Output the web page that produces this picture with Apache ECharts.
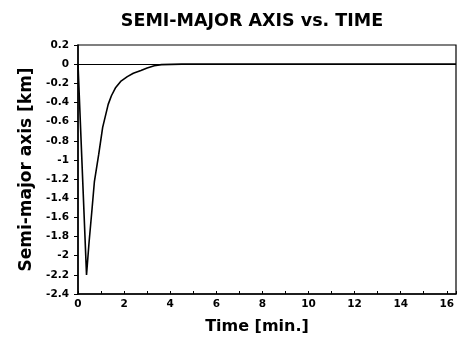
<!DOCTYPE html>
<html>
<head>
<meta charset="utf-8">
<script src="https://cdn.jsdelivr.net/npm/echarts@6/dist/echarts.min.js"></script>
<style>
html,body{margin:0;padding:0;background:#fff;}
#chart{width:460px;height:340px;}
</style>
</head>
<body>
<div id="chart"></div>
<script>
// Data
var titleText = 'SEMI-MAJOR AXIS vs. TIME';
var xName = 'Time [min.]';
var yName = 'Semi-major axis [km]';
var timeMin = [0, 0.37, 0.48, 0.61, 0.71, 0.9, 1.07, 1.31, 1.45, 1.62, 1.85, 2.14, 2.4, 2.73, 3.0, 3.31, 3.62, 4.5, 6, 8, 10, 12, 14, 16.4];
var axisKm  = [0, -2.2, -1.86, -1.51, -1.23, -0.94, -0.66, -0.42, -0.33, -0.25, -0.18, -0.13, -0.095, -0.065, -0.04, -0.017, -0.005, 0, 0, 0, 0, 0, 0, 0];
var xMin = 0, xMax = 16.4, xStep = 1, xLabelStep = 2;
var yMin = -2.4, yMax = 0.2, yStep = 0.2;

var points = timeMin.map(function(t, i){ return [t, axisKm[i]]; });
var F = 'DejaVu Sans';

var chart = echarts.init(document.getElementById('chart'), null, {renderer:'canvas'});
chart.setOption({
  animation: false,
  backgroundColor: '#fff',
  title: {
    text: titleText, left: 247, top: 7, textAlign: 'center',
    textStyle: {fontFamily: F, fontWeight: 'bold', fontSize: 17.5, color: '#000'}
  },
  grid: {left: 78, right: 4, top: 45, bottom: 44, show: true, borderColor: '#000', borderWidth: 1.2, backgroundColor: 'transparent'},
  xAxis: {
    type: 'value', min: xMin, max: xMax, interval: xStep,
    name: xName, nameLocation: 'middle', nameGap: 25,
    nameTextStyle: {fontFamily: F, fontWeight: 'bold', fontSize: 16, color: '#000', padding: [0, 20, 0, 0]},
    axisLine: {show: true, onZero: false, lineStyle: {color: '#000', width: 1.5}},
    axisTick: {show: true, inside: true, length: 3, lineStyle: {color: '#000', width: 1}},
    splitLine: {show: false},
    axisLabel: {
      fontFamily: F, fontWeight: 'bold', fontSize: 10.5, color: '#000', margin: 5,
      formatter: function(v){ return (Math.abs(v % xLabelStep) < 1e-9) ? String(v) : ''; }
    }
  },
  yAxis: {
    type: 'value', min: yMin, max: yMax, interval: yStep,
    name: yName, nameLocation: 'middle', nameGap: 43,
    nameTextStyle: {fontFamily: F, fontWeight: 'bold', fontSize: 17, color: '#000'},
    axisLine: {show: true, onZero: false, lineStyle: {color: '#000', width: 1.5}},
    axisTick: {show: true, inside: false, length: 4, lineStyle: {color: '#000', width: 1}},
    splitLine: {show: false},
    axisLabel: {fontFamily: F, fontWeight: 'bold', fontSize: 10.5, color: '#000', margin: 9,
      formatter: function(v){ var r = Math.round(v*10)/10; return String(r === 0 ? 0 : r); }}
  },
  series: [{
    type: 'line', data: points, showSymbol: false, smooth: false,
    lineStyle: {color: '#000', width: 1.6},
    markLine: {
      silent: true, symbol: 'none', label: {show: false},
      lineStyle: {color: '#000', width: 1.2, type: 'solid'},
      data: [{yAxis: 0}]
    }
  }]
});
</script>
</body>
</html>
